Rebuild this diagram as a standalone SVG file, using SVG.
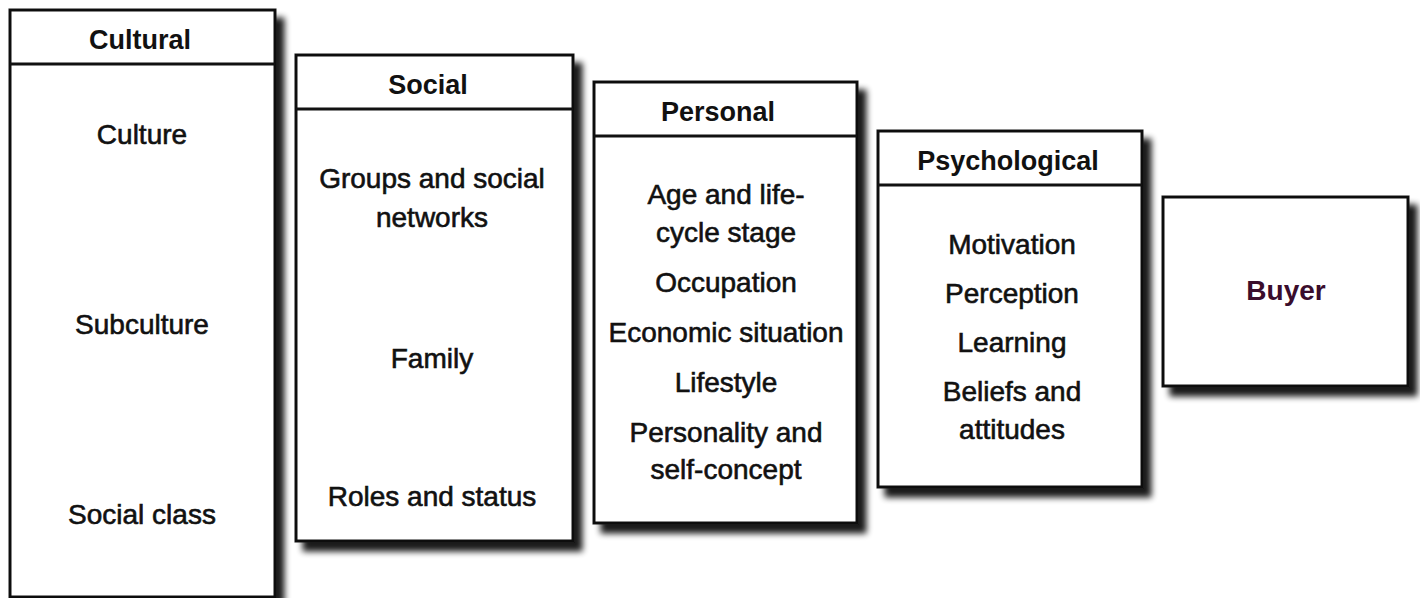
<svg xmlns="http://www.w3.org/2000/svg" width="1420" height="598" viewBox="0 0 1420 598">
<defs>
<filter id="sh" x="-10%" y="-10%" width="130%" height="130%">
<feGaussianBlur in="SourceAlpha" stdDeviation="3"/>
<feOffset dx="8" dy="9" result="b"/>
<feComponentTransfer><feFuncA type="linear" slope="0.9"/></feComponentTransfer>
<feMerge><feMergeNode/><feMergeNode in="SourceGraphic"/></feMerge>
</filter>
</defs>
<style>
.box{fill:#fff;stroke:#111;stroke-width:3;filter:url(#sh)}
.sep{stroke:#111;stroke-width:3}
text{font-family:"Liberation Sans",Arial,sans-serif;text-anchor:middle;fill:#111}
.h{font-size:27px;font-weight:bold}
.t{font-size:28px;stroke:#111;stroke-width:0.6}
.buyer{font-size:28px;font-weight:bold;fill:#3a0d2c}
</style>
<rect width="1420" height="598" fill="#fff"/>
<g id="cultural">
<rect class="box" x="10" y="10" width="265" height="587"/>
<line class="sep" x1="10" y1="64" x2="275" y2="64"/>
<text class="h" x="140" y="49">Cultural</text>
<text class="t" x="142" y="144">Culture</text>
<text class="t" x="142" y="334">Subculture</text>
<text class="t" x="142" y="524">Social class</text>
</g>
<g id="social">
<rect class="box" x="296" y="55" width="277" height="486"/>
<line class="sep" x1="296" y1="109" x2="573" y2="109"/>
<text class="h" x="428" y="94">Social</text>
<text class="t" x="432" y="188">Groups and social</text>
<text class="t" x="432" y="227">networks</text>
<text class="t" x="432" y="368">Family</text>
<text class="t" x="432" y="506">Roles and status</text>
</g>
<g id="personal">
<rect class="box" x="594" y="82" width="263" height="441"/>
<line class="sep" x1="594" y1="136" x2="857" y2="136"/>
<text class="h" x="718" y="121">Personal</text>
<text class="t" x="726" y="204">Age and life-</text>
<text class="t" x="726" y="242">cycle stage</text>
<text class="t" x="726" y="292">Occupation</text>
<text class="t" x="726" y="342">Economic situation</text>
<text class="t" x="726" y="392">Lifestyle</text>
<text class="t" x="726" y="442">Personality and</text>
<text class="t" x="726" y="479">self-concept</text>
</g>
<g id="psychological">
<rect class="box" x="878" y="131" width="264" height="356"/>
<line class="sep" x1="878" y1="185" x2="1142" y2="185"/>
<text class="h" x="1008" y="170">Psychological</text>
<text class="t" x="1012" y="254">Motivation</text>
<text class="t" x="1012" y="303">Perception</text>
<text class="t" x="1012" y="352">Learning</text>
<text class="t" x="1012" y="401">Beliefs and</text>
<text class="t" x="1012" y="439">attitudes</text>
</g>
<g id="buyer">
<rect class="box" x="1163" y="197" width="245" height="189"/>
<text class="buyer" x="1286" y="300">Buyer</text>
</g>
<g id="connectors"></g>
</svg>
